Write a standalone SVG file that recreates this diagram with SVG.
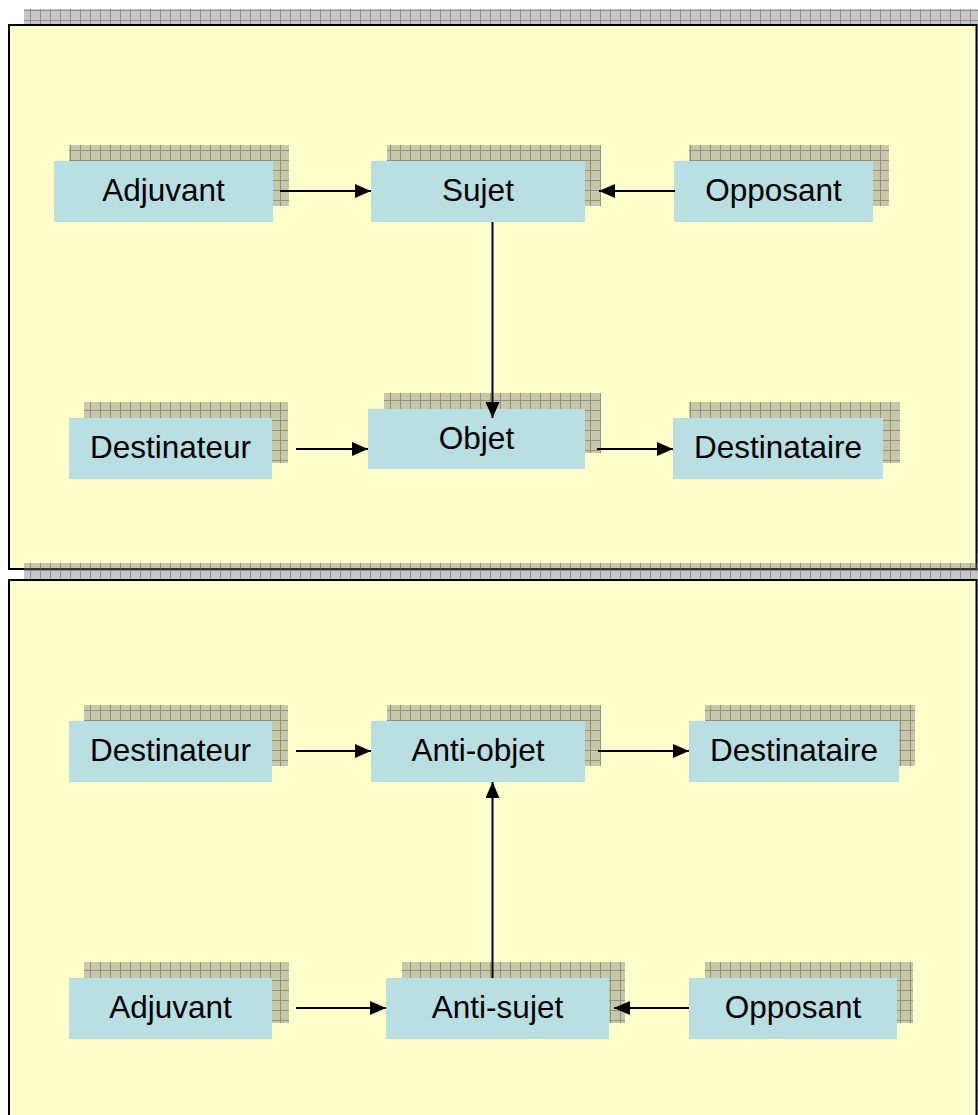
<svg xmlns="http://www.w3.org/2000/svg" width="978" height="1115" viewBox="0 0 978 1115">
<defs>
<pattern id="grid" patternUnits="userSpaceOnUse" width="10" height="10">
<rect width="10" height="10" fill="#7a7a7a" fill-opacity="0.42"/>
<rect x="0" y="0" width="10" height="1" fill="#505050" fill-opacity="0.45"/>
<rect x="0" y="1" width="1" height="9" fill="#505050" fill-opacity="0.45"/>
</pattern>
<marker id="ah" viewBox="0 0 16 14" refX="16" refY="7" markerWidth="16" markerHeight="14" markerUnits="userSpaceOnUse" orient="auto">
<path d="M0,0 L16,7 L0,14 Z" fill="#000"/>
</marker>
</defs>
<style>
.frame{fill:#ffffcc;stroke:#000;stroke-width:2}
.shadow{fill:url(#grid)}
.node{fill:#b9dfe3}
.lbl{font-family:"Liberation Sans",Arial,sans-serif;font-size:31.5px;fill:#000;text-anchor:middle}
.conn{stroke:#000;stroke-width:2;fill:none;marker-end:url(#ah)}
</style>
<rect width="978" height="1115" fill="#fff"/>
<g id="frame1">
<rect class="shadow" x="24" y="9" width="967" height="544"/>
<rect class="frame" x="9" y="25" width="967.5" height="544"/>
</g>
<g id="frame2">
<rect class="shadow" x="24" y="563" width="967" height="600"/>
<rect class="frame" x="9" y="580" width="967.5" height="600"/>
</g>
<g id="n-adjuvant1">
<rect class="shadow" x="69" y="145" width="220" height="61"/>
<rect class="node" x="54" y="161" width="219" height="61"/>
<text class="lbl" x="163.5" y="201">Adjuvant</text>
</g>
<g id="n-sujet">
<rect class="shadow" x="387" y="145" width="214" height="61"/>
<rect class="node" x="371" y="161" width="214" height="61"/>
<text class="lbl" x="478" y="201">Sujet</text>
</g>
<g id="n-opposant1">
<rect class="shadow" x="689" y="145" width="200" height="61"/>
<rect class="node" x="674" y="161" width="199" height="61"/>
<text class="lbl" x="773.5" y="201">Opposant</text>
</g>
<g id="n-destinateur1">
<rect class="shadow" x="84" y="402" width="204" height="61"/>
<rect class="node" x="69" y="418" width="203" height="61"/>
<text class="lbl" x="170.5" y="458">Destinateur</text>
</g>
<g id="n-objet">
<rect class="shadow" x="384" y="393" width="217" height="60"/>
<rect class="node" x="368" y="409" width="217" height="60"/>
<text class="lbl" x="476.5" y="449">Objet</text>
</g>
<g id="n-destinataire1">
<rect class="shadow" x="689" y="402" width="211" height="61"/>
<rect class="node" x="673" y="418" width="210" height="61"/>
<text class="lbl" x="778" y="457.5">Destinataire</text>
</g>
<g id="n-destinateur2">
<rect class="shadow" x="84" y="705" width="204" height="61"/>
<rect class="node" x="69" y="721" width="203" height="61"/>
<text class="lbl" x="170.5" y="761">Destinateur</text>
</g>
<g id="n-antiobjet">
<rect class="shadow" x="387" y="705" width="214" height="61"/>
<rect class="node" x="371" y="721" width="214" height="61"/>
<text class="lbl" x="478" y="761">Anti-objet</text>
</g>
<g id="n-destinataire2">
<rect class="shadow" x="705" y="705" width="210" height="61"/>
<rect class="node" x="689" y="721" width="210" height="61"/>
<text class="lbl" x="794" y="761">Destinataire</text>
</g>
<g id="n-adjuvant2">
<rect class="shadow" x="84" y="962" width="205" height="61"/>
<rect class="node" x="69" y="978" width="203" height="61"/>
<text class="lbl" x="170.5" y="1018">Adjuvant</text>
</g>
<g id="n-antisujet">
<rect class="shadow" x="402" y="962" width="223" height="61"/>
<rect class="node" x="386" y="978" width="223" height="61"/>
<text class="lbl" x="497.5" y="1018">Anti-sujet</text>
</g>
<g id="n-opposant2">
<rect class="shadow" x="705" y="962" width="208" height="61"/>
<rect class="node" x="689" y="978" width="208" height="61"/>
<text class="lbl" x="793" y="1018">Opposant</text>
</g>
<g id="connectors">
<line class="conn" x1="280" y1="191" x2="371" y2="191"/>
<line class="conn" x1="675" y1="191" x2="599" y2="191"/>
<line class="conn" x1="492.5" y1="222" x2="492.5" y2="418"/>
<line class="conn" x1="296" y1="449" x2="368" y2="449"/>
<line class="conn" x1="597" y1="449" x2="673" y2="449"/>
<line class="conn" x1="296" y1="751" x2="371" y2="751"/>
<line class="conn" x1="598" y1="751" x2="689" y2="751"/>
<line class="conn" x1="492.5" y1="978" x2="492.5" y2="782"/>
<line class="conn" x1="296" y1="1008" x2="386" y2="1008"/>
<line class="conn" x1="689" y1="1008" x2="614" y2="1008"/>
</g>
</svg>
